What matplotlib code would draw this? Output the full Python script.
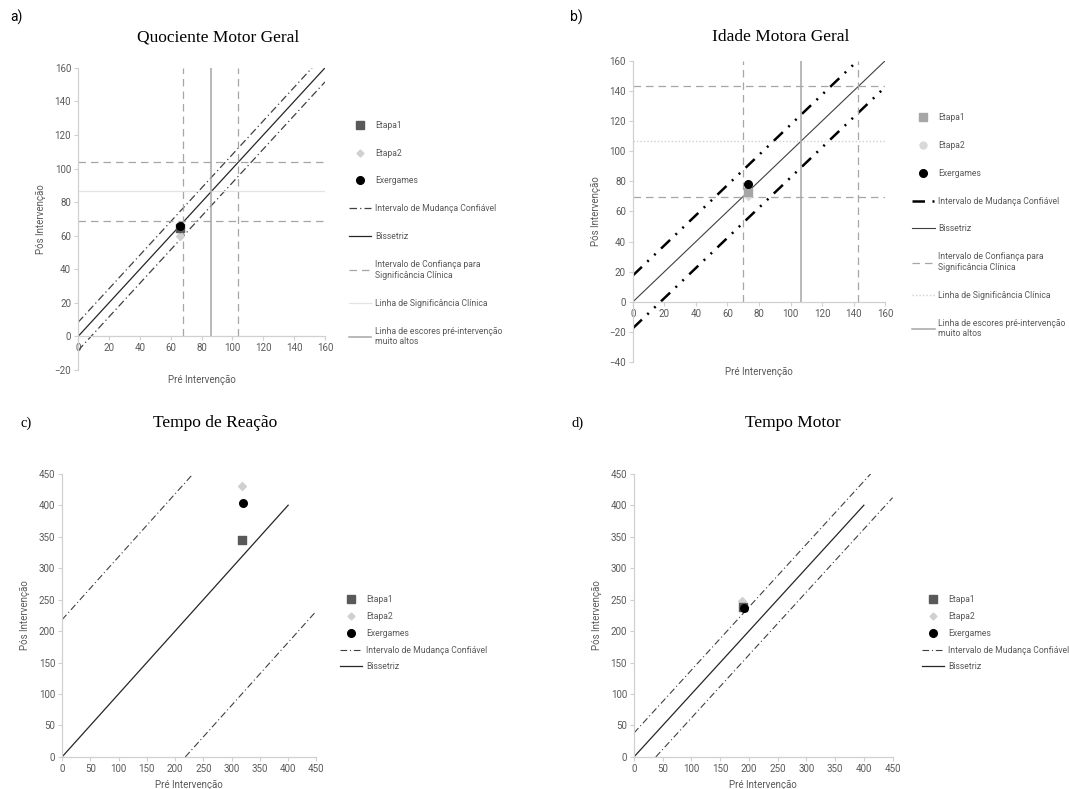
import numpy as np
import matplotlib
matplotlib.use("Agg")
import matplotlib.pyplot as plt
from matplotlib.lines import Line2D

# ---- data ----
series_names = ["Etapa1", "Etapa2", "Exergames"]

# a) Quociente Motor Geral
a_pre = [66, 66, 66]
a_pos = [64.5, 60, 66]
a_rci = 8.4            # half-width of the reliable change band
a_ci_x = [68, 103.5]   # confidence interval for clinical significance (pre)
a_ci_y = [68.5, 104]   # confidence interval for clinical significance (post)
a_sig = 86.5           # clinical significance line
a_high = 86            # very high pre-intervention scores

# b) Idade Motora Geral
b_pre = [73, 73, 73]
b_pos = [73, 70, 78]
b_rci = 17.5
b_ci_x = [70, 143]
b_ci_y = [69.5, 143]
b_sig = 106.5
b_high = 106.5

# c) Tempo de Reação
c_pre = [319, 318, 320]
c_pos = [345, 430, 404]
c_rci = 218

# d) Tempo Motor
d_pre = [190, 188, 191]
d_pos = [238, 247, 236]
d_rci = 38

rci_label = "Intervalo de Mudança Confiável"
bis_label = "Bissetriz"
ci_label = "Intervalo de Confiança para\nSignificância Clínica"
sig_label = "Linha de Significância Clínica"
high_label = "Linha de escores pré-intervenção\nmuito altos"

TXT = "#595959"
SPINE = "#d0d0d0"
LEG_FS = 6.2

plt.rcParams["font.family"] = ["Liberation Sans Narrow", "Roboto", "DejaVu Sans"]

fig = plt.figure(figsize=(10.69, 7.89), dpi=100)


def style_axes(ax, xlim, ylim, xticks, yticks):
    ax.set_xlim(*xlim)
    ax.set_ylim(*ylim)
    ax.set_xticks(xticks)
    ax.set_yticks(yticks)
    for s in ["top", "right"]:
        ax.spines[s].set_visible(False)
    ax.spines["bottom"].set_position(("data", 0))
    for s in ["left", "bottom"]:
        ax.spines[s].set_color(SPINE)
        ax.spines[s].set_linewidth(0.9)
    ax.tick_params(colors=SPINE, labelcolor=TXT, labelsize=7, length=3, width=0.8, pad=2)
    ax.set_ylabel("Pós Intervenção", color=TXT, fontsize=7, labelpad=6)


def draw_points(ax, pre, pos, colors):
    ax.scatter(pre[0], pos[0], marker="s", s=30, color=colors[0], zorder=5, label=series_names[0])
    ax.scatter(pre[1], pos[1], marker="D", s=16, color=colors[1], zorder=4, label=series_names[1])
    ax.scatter(pre[2], pos[2], marker="o", s=30, color=colors[2], zorder=6, label=series_names[2])


# ---------- a) ----------
ax = fig.add_axes([0.073, 0.531, 0.231, 0.383])
style_axes(ax, (0, 160), (-20, 160), range(0, 161, 20), range(-20, 161, 20))
rci_a = dict(color="#404040", lw=0.9, ls=(0, (6, 2.5, 1, 2.5)))
ax.plot([0, 160 - a_rci], [a_rci, 160], **rci_a)
ax.plot([0, 160], [-a_rci, 160 - a_rci], **rci_a)
ax.plot([0, 160], [0, 160], color="#262626", lw=0.9)
ci_style = dict(color="#a6a6a6", lw=0.9, ls=(0, (6, 4)))
for v in a_ci_x:
    ax.plot([v, v], [0, 160], **ci_style)
for v in a_ci_y:
    ax.plot([0, 160], [v, v], **ci_style)
ax.plot([0, 160], [a_sig, a_sig], color="#e3e3e3", lw=0.9)
ax.plot([a_high, a_high], [0, 160], color="#a6a6a6", lw=1.1)
draw_points(ax, a_pre, a_pos, ["#595959", "#d0d0d0", "#000000"])
ax.xaxis.set_label_coords(0.5, -0.015)
ax.set_xlabel("Pré Intervenção", color=TXT, fontsize=7)
handles_a = [
    Line2D([], [], ls="none", marker="s", ms=5.5, color="#595959"),
    Line2D([], [], ls="none", marker="D", ms=3.5, color="#d0d0d0"),
    Line2D([], [], ls="none", marker="o", ms=5.5, color="#000000"),
    Line2D([], [], **rci_a),
    Line2D([], [], color="#262626", lw=0.9),
    Line2D([], [], **ci_style),
    Line2D([], [], color="#e3e3e3", lw=0.9),
    Line2D([], [], color="#a6a6a6", lw=1.1),
]
labels_full = series_names + [rci_label, bis_label, ci_label, sig_label, high_label]
fig.legend(handles_a, labels_full, loc="upper left", bbox_to_anchor=(0.319, 0.857),
           frameon=False, fontsize=LEG_FS, labelspacing=2.2, handlelength=2.6,
           handletextpad=0.45, labelcolor=TXT)

# ---------- b) ----------
ax = fig.add_axes([0.592, 0.541, 0.236, 0.382])
style_axes(ax, (0, 160), (-40, 160), range(0, 161, 20), range(-40, 161, 20))
rci_b = dict(color="#000000", lw=1.8, ls=(0, (5, 3, 0.8, 3, 0.8, 3)))
ax.plot([0, 160 - b_rci], [b_rci, 160], **rci_b)
ax.plot([0, 160], [-b_rci, 160 - b_rci], **rci_b)
ax.plot([0, 160], [0, 160], color="#404040", lw=0.8)
for v in b_ci_x:
    ax.plot([v, v], [0, 160], **ci_style)
for v in b_ci_y:
    ax.plot([0, 160], [v, v], **ci_style)
sig_b = dict(color="#d0d0d0", lw=1.0, ls=(0, (1, 1.5)))
ax.plot([0, 160], [b_sig, b_sig], **sig_b)
ax.plot([b_high, b_high], [0, 160], color="#a6a6a6", lw=1.1)
draw_points(ax, b_pre, b_pos, ["#a6a6a6", "#d9d9d9", "#000000"])
ax.xaxis.set_label_coords(0.5, -0.017)
ax.set_xlabel("Pré Intervenção", color=TXT, fontsize=7)
handles_b = [
    Line2D([], [], ls="none", marker="s", ms=5.5, color="#a6a6a6"),
    Line2D([], [], ls="none", marker="o", ms=5, color="#d9d9d9"),
    Line2D([], [], ls="none", marker="o", ms=5.5, color="#000000"),
    Line2D([], [], **rci_b),
    Line2D([], [], color="#404040", lw=0.8),
    Line2D([], [], **ci_style),
    Line2D([], [], **sig_b),
    Line2D([], [], color="#a6a6a6", lw=1.1),
]
fig.legend(handles_b, labels_full, loc="upper left", bbox_to_anchor=(0.846, 0.867),
           frameon=False, fontsize=LEG_FS, labelspacing=2.2, handlelength=2.6,
           handletextpad=0.45, labelcolor=TXT)

# ---------- c) and d) ----------
rci_cd = dict(color="#404040", lw=0.8, ls=(0, (6, 2.5, 1, 2.5)))
for pos_, pre, post, rci, legx in [
    ([0.058, 0.0406, 0.238, 0.359], c_pre, c_pos, c_rci, 0.3105),
    ([0.593, 0.0406, 0.242, 0.359], d_pre, d_pos, d_rci, 0.855),
]:
    ax = fig.add_axes(pos_)
    style_axes(ax, (0, 450), (0, 450), range(0, 451, 50), range(0, 451, 50))
    ax.plot([0, 450 - rci], [rci, 450], **rci_cd)
    ax.plot([rci, 450], [0, 450 - rci], **rci_cd)
    ax.plot([0, 400], [0, 400], color="#262626", lw=0.9)
    draw_points(ax, pre, post, ["#595959", "#d0d0d0", "#000000"])
    ax.set_xlabel("Pré Intervenção", color=TXT, fontsize=7, labelpad=4)
    handles_cd = [
        Line2D([], [], ls="none", marker="s", ms=5.5, color="#595959"),
        Line2D([], [], ls="none", marker="D", ms=3.5, color="#d0d0d0"),
        Line2D([], [], ls="none", marker="o", ms=5.5, color="#000000"),
        Line2D([], [], **rci_cd),
        Line2D([], [], color="#262626", lw=0.9),
    ]
    fig.legend(handles_cd, series_names + [rci_label, bis_label], loc="upper left",
               bbox_to_anchor=(legx, 0.256), frameon=False, fontsize=LEG_FS,
               labelspacing=0.92, handlelength=2.6, handletextpad=0.45, labelcolor=TXT)

# titles and panel letters
serif = ["Liberation Serif", "DejaVu Serif"]
sans = ["Roboto", "DejaVu Sans"]
fig.text(0.204, 0.953, "Quociente Motor Geral", family=serif, fontsize=12.5, ha="center", va="center")
fig.text(0.730, 0.953, "Idade Motora Geral", family=serif, fontsize=12.5, ha="center", va="center")
fig.text(0.201, 0.464, "Tempo de Reação", family=serif, fontsize=12.5, ha="center", va="center")
fig.text(0.742, 0.464, "Tempo Motor", family=serif, fontsize=12.5, ha="center", va="center")
fig.text(0.010, 0.978, "a)", family=sans, fontsize=10, va="center")
fig.text(0.533, 0.978, "b)", family=sans, fontsize=10, va="center")
fig.text(0.019, 0.464, "c)", family=serif, fontsize=10.5, va="center")
fig.text(0.535, 0.464, "d)", family=serif, fontsize=10.5, va="center")

fig.savefig("out.png", dpi=100, facecolor="white")
